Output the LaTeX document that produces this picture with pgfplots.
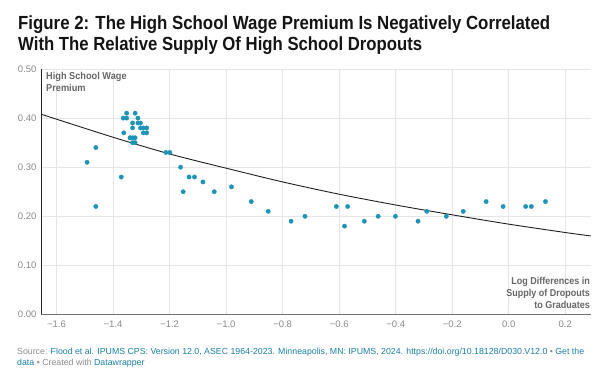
\documentclass[border=0pt]{standalone}
\usepackage{fontspec}
\setmainfont{Liberation Sans}
\usepackage{pgfplots}
\pgfplotsset{compat=1.18}
\definecolor{dot}{HTML}{1D93B5}
\definecolor{gridc}{HTML}{E6E6E6}
\definecolor{ticklab}{HTML}{8A8A8A}
\definecolor{labc}{HTML}{666666}
\definecolor{linkc}{HTML}{1D7FA3}
\definecolor{srcgray}{HTML}{8C8C8C}
\begin{document}
\begin{tikzpicture}[x=1pt,y=1pt]
\path (0,0) rectangle (600,382);
% title
\node[anchor=base west, inner sep=0pt, text=black!92] at (18,352) {\resizebox{532pt}{\height}{\fontsize{19}{22}\selectfont\bfseries Figure 2: The High School Wage Premium Is Negatively Correlated}};
\node[anchor=base west, inner sep=0pt, text=black!92] at (18,331.5) {\resizebox{404pt}{\height}{\fontsize{19}{22}\selectfont\bfseries With The Relative Supply Of High School Dropouts}};
\begin{axis}[
  at={(41pt,67.5pt)}, anchor=south west,
  scale only axis, width=549.7pt, height=245.5pt,
  xmin=-1.655, xmax=0.29, ymin=0, ymax=0.5,
  axis x line=bottom, axis y line=left,
  axis line style={-},
  x axis line style={color=black!55, line width=0.8pt},
  y axis line style={color=black!85, line width=0.8pt},
  xtick={-1.6,-1.4,-1.2,-1.0,-0.8,-0.6,-0.4,-0.2,0.0,0.2},
  xticklabels={−1.6,−1.4,−1.2,−1.0,−0.8,−0.6,−0.4,−0.2,0.0,0.2},
  ytick={0,0.1,0.2,0.3,0.4,0.5},
  yticklabels={0.00,0.10,0.20,0.30,0.40,0.50},
  major tick length=0pt,
  grid=major,
  major grid style={color=gridc, line width=0.7pt},
  tick label style={font=\fontsize{9.5}{11}\selectfont, text=ticklab},
  xticklabel style={yshift=-3pt},
  yticklabel style={xshift=-1pt},
  clip=false,
]
\addplot[color=dot, only marks, mark=*, mark size=2.2pt, mark options={solid, draw=dot, fill=dot, line width=0.3pt}] coordinates {
(-1.492,0.31) (-1.461,0.34) (-1.461,0.22) (-1.371,0.28)
(-1.352,0.41) (-1.322,0.41)
(-1.364,0.40) (-1.352,0.40) (-1.312,0.40)
(-1.331,0.39) (-1.312,0.39) (-1.303,0.39)
(-1.331,0.38) (-1.303,0.38) (-1.293,0.38) (-1.281,0.38)
(-1.362,0.37) (-1.293,0.37) (-1.281,0.37)
(-1.340,0.36) (-1.331,0.36) (-1.322,0.36)
(-1.331,0.35) (-1.322,0.35)
(-1.213,0.33) (-1.199,0.33)
(-1.161,0.30) (-1.131,0.28) (-1.112,0.28) (-1.082,0.27)
(-1.152,0.25) (-1.042,0.25) (-0.981,0.26)
(-0.911,0.23) (-0.851,0.21) (-0.770,0.19) (-0.721,0.20)
(-0.610,0.22) (-0.570,0.22) (-0.581,0.18) (-0.511,0.19)
(-0.462,0.20) (-0.401,0.20) (-0.321,0.19) (-0.290,0.21)
(-0.221,0.20) (-0.161,0.21) (-0.080,0.23) (-0.020,0.22)
(0.060,0.22) (0.080,0.22) (0.130,0.23)
};
\addplot[color=black!88, line width=0.9pt, smooth] coordinates {
(-1.655,0.408) (-1.4,0.361) (-1.2,0.327) (-1.0,0.298) (-0.8,0.270)
(-0.6,0.245) (-0.4,0.223) (-0.2,0.203) (0.0,0.184) (0.2,0.167) (0.29,0.160)
};
\end{axis}
% axis labels
\node[anchor=base west, inner sep=0pt, text=labc] at (46,302) {\scalebox{0.92}[1]{\fontsize{10}{11.5}\selectfont\bfseries High School Wage}};
\node[anchor=base west, inner sep=0pt, text=labc] at (46,290.5) {\scalebox{0.92}[1]{\fontsize{10}{11.5}\selectfont\bfseries Premium}};
\node[anchor=base east, inner sep=0pt, text=labc] at (590,97) {\scalebox{0.9}[1]{\fontsize{10}{12}\selectfont\bfseries Log Differences in}};
\node[anchor=base east, inner sep=0pt, text=labc] at (590,85) {\scalebox{0.9}[1]{\fontsize{10}{12}\selectfont\bfseries Supply of Dropouts}};
\node[anchor=base east, inner sep=0pt, text=labc] at (590,73) {\scalebox{0.9}[1]{\fontsize{10}{12}\selectfont\bfseries to Graduates}};
% source
\node[anchor=base west, inner sep=0pt] at (17,27) {\resizebox{567pt}{\height}{\fontsize{8.8}{10}\selectfont\color{srcgray}Source: \color{linkc}Flood et al. IPUMS CPS: Version 12.0, ASEC 1964-2023. Minneapolis, MN: IPUMS, 2024. https://doi.org/10.18128/D030.V12.0 \color{srcgray}• \color{linkc}Get the}};
\node[anchor=base west, inner sep=0pt, font=\fontsize{8.8}{10}\selectfont] at (17,16) {\color{linkc}data \color{srcgray}• Created with \color{linkc}Datawrapper};
\end{tikzpicture}
\end{document}
